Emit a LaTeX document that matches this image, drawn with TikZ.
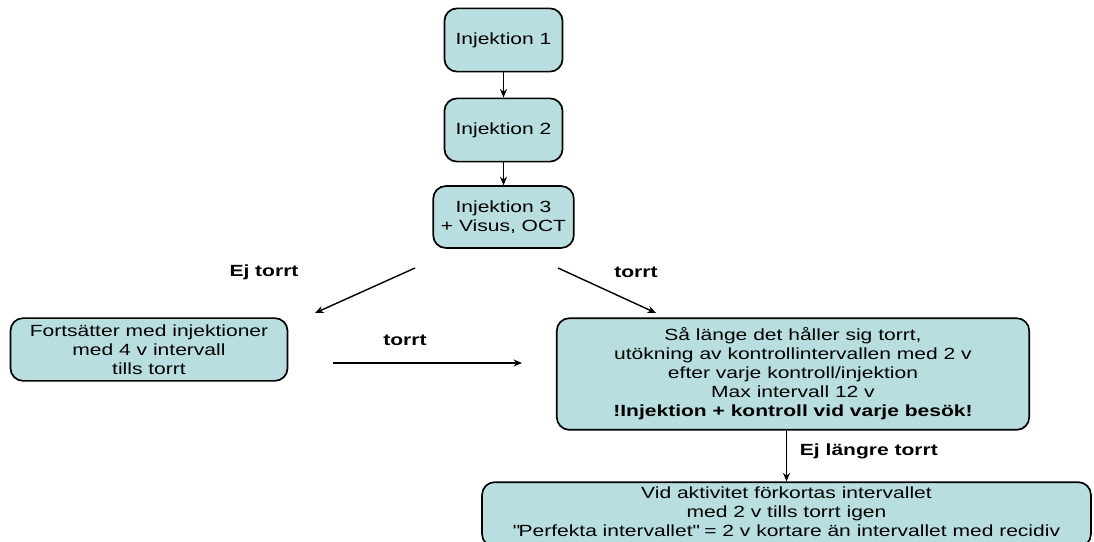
\documentclass[tikz,border=0pt]{standalone}
\usepackage{fontspec}
\setmainfont{Liberation Sans}[FakeStretch=1.3]
\usetikzlibrary{arrows.meta}
\definecolor{boxfill}{RGB}{184,222,224}

\begin{document}
\begin{tikzpicture}[x=0.025cm, y=-0.025cm, >={Stealth[length=6pt,width=5pt]},
    font=\fontsize{11.5}{13.5}\selectfont,
    bnode/.style={draw, fill=boxfill, line width=1.2pt, rounded corners=9pt, align=center, inner sep=1pt},
    lnode/.style={font=\fontsize{11.5}{13.5}\selectfont\bfseries}]
    \useasboundingbox (0,0) rectangle (1094,541);

    \node[bnode, minimum width=84pt, minimum height=45pt] (inj1) at (503.5,40) {Injektion 1};
    \node[bnode, minimum width=84pt, minimum height=45pt] (inj2) at (503.5,130) {Injektion 2};
    \node[bnode, minimum width=100pt, minimum height=44pt] (inj3) at (503.5,217) {Injektion 3\\+ Visus, OCT};
    \node[bnode, minimum width=197pt, minimum height=44.6pt] (fort) at (149,349.5) {Fortsätter med injektioner\\med 4 v intervall\\tills torrt};
    \node[bnode, minimum width=336pt, minimum height=79.4pt] (torr) at (793,374)
        {Så länge det håller sig torrt,\\utökning av kontrollintervallen med 2 v\\efter varje kontroll/injektion\\Max intervall 12 v\\\textbf{!Injektion + kontroll vid varje besök!}};
    \node[bnode, minimum width=433pt, minimum height=46pt, text depth=4pt] (vid) at (786.5,514.5)
        {Vid aktivitet förkortas intervallet\\med 2 v tills torrt igen\\\textquotedbl Perfekta intervallet\textquotedbl{} = 2 v kortare än intervallet med recidiv};

    \coordinate (ej0) at (415,268);
    \coordinate (ej1) at (315,313);
    \coordinate (to0) at (558,268);
    \coordinate (to1) at (656,313);
    \coordinate (ho0) at (333,363);
    \coordinate (ho1) at (522,363);

    \node[lnode] (lej) at (264,272) {Ej torrt};
    \node[lnode] (lto) at (636,272) {torrt};
    \node[lnode] (lho) at (405,340) {torrt};
    \node[lnode, right] (llt) at (795,451) {Ej längre torrt};

    \draw[->, line width=1pt] (inj1.south) -- (inj2.north);
    \draw[->, line width=1pt] (inj2.south) -- (inj3.north);
    \draw[->, line width=1pt] (ej0) -- (ej1);
    \draw[->, line width=1pt] (to0) -- (to1);
    \draw[->, line width=1pt] (ho0) -- (ho1);
    \draw[->, line width=1pt] (torr.south -| vid.north) -- (vid.north);
\end{tikzpicture}
\end{document}
